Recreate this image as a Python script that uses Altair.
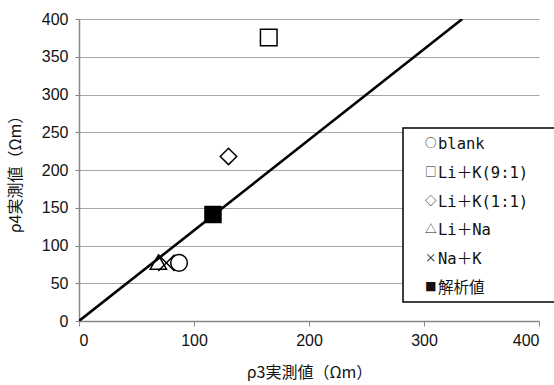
import altair as alt
import pandas as pd

# data
series = ["blank", "Li+K(9:1)", "Li+K(1:1)", "Li+Na", "Na+K", "解析値"]
rho3 = [87, 165, 130, 69, 76, 116.5]
rho4 = [77, 375.5, 218, 78, 77, 141]

line_x = [0, 333.3]
line_y = [0, 400]

legend_symbols = ["○", "□", "◇", "△", "×", "■"]
legend_names = ["blank", "Li＋K(9:1)", "Li＋K(1:1)", "Li＋Na", "Na＋K", "解析値"]

x_ticks = [0, 100, 200, 300, 400]
y_ticks = [0, 50, 100, 150, 200, 250, 300, 350, 400]

pts = pd.DataFrame({"series": series, "rho3": rho3, "rho4": rho4})
ln = pd.DataFrame({"x": line_x, "y": line_y})
leg = pd.DataFrame({"sym": legend_symbols, "name": legend_names,
                    "i": list(range(len(legend_names)))})

W, H = 460, 302
LBL_FONT = "Liberation Sans"
JP_FONT = "Noto Sans CJK JP"

xscale = alt.Scale(domain=[0, 400], nice=False)
yscale = alt.Scale(domain=[0, 400], nice=False)

xaxis = alt.Axis(values=x_ticks, grid=False, title="ρ3実測値（Ωm）",
                 labelFont=LBL_FONT, labelFontSize=16, labelColor="#111",
                 tickSize=5, tickColor="#888", domainColor="#888", domainWidth=1.5,
                 labelPadding=6, titleFont=JP_FONT, titleFontSize=16,
                 titleFontWeight="normal", titleColor="#111",
                 titleX=W / 2, titleY=51, titleBaseline="middle", titleAlign="center")
yaxis = alt.Axis(values=y_ticks, grid=True, gridColor="#a6a6a6", gridWidth=1,
                 title="ρ4実測値（Ωm）", labelOverlap=False,
                 labelFont=LBL_FONT, labelFontSize=16, labelColor="#111",
                 tickSize=4, tickColor="#888", domainColor="#888", domainWidth=1.5,
                 labelPadding=7, titleFont=JP_FONT, titleFontSize=16,
                 titleFontWeight="normal", titleColor="#111",
                 titleX=-64, titleY=H / 2, titleAngle=-90, titleBaseline="middle",
                 titleAlign="center")

points = alt.Chart(pts).mark_point(filled=False, stroke="black", strokeWidth=1.5, opacity=1).encode(
    x=alt.X("rho3:Q", scale=xscale, axis=xaxis),
    y=alt.Y("rho4:Q", scale=yscale, axis=yaxis),
    shape=alt.Shape("series:N", legend=None,
                    scale=alt.Scale(domain=series,
                                    range=["circle", "square", "diamond", "triangle-up",
                                           "M-1,-1L1,1M1,-1L-1,1", "square"])),
    fill=alt.Fill("series:N", legend=None,
                  scale=alt.Scale(domain=series,
                                  range=["white", "white", "white", "white", "white", "black"])),
    size=alt.Size("series:N", legend=None,
                  scale=alt.Scale(domain=series, range=[280, 256, 250, 150, 144, 256])),
)

line = alt.Chart(ln).mark_line(color="black", strokeWidth=2.6, clip=True).encode(
    x=alt.X("x:Q", scale=xscale, axis=xaxis),
    y=alt.Y("y:Q", scale=yscale, axis=yaxis),
)

box = alt.Chart(pd.DataFrame({"a": [0]})).mark_rect(
    fill="white", stroke="black", strokeWidth=1.5
).encode(x=alt.value(324), x2=alt.value(485), y=alt.value(109), y2=alt.value(283))

legbase = alt.Chart(leg).transform_calculate(py="125 + datum.i * 28.8")

legsym = legbase.mark_text(align="left", baseline="middle", font=JP_FONT,
                           fontSize=11.5, color="#111").encode(
    x=alt.value(346),
    y=alt.Y("py:Q", scale=None, axis=None),
    text="sym:N",
)
legname = legbase.mark_text(align="left", baseline="middle",
                            font="DejaVu Sans Mono, Noto Sans CJK JP",
                            fontSize=15.5, color="#111").encode(
    x=alt.value(359),
    y=alt.Y("py:Q", scale=None, axis=None),
    text="name:N",
)

chart = alt.layer(points, line, box, legsym, legname).properties(
    width=W, height=H,
    autosize=alt.AutoSizeParams(type="none"),
    padding={"left": 79, "top": 19, "right": 15, "bottom": 64},
    background="white",
).configure_view(stroke=None)

chart.save("out.html", embed_options={"renderer": "svg", "actions": False})
